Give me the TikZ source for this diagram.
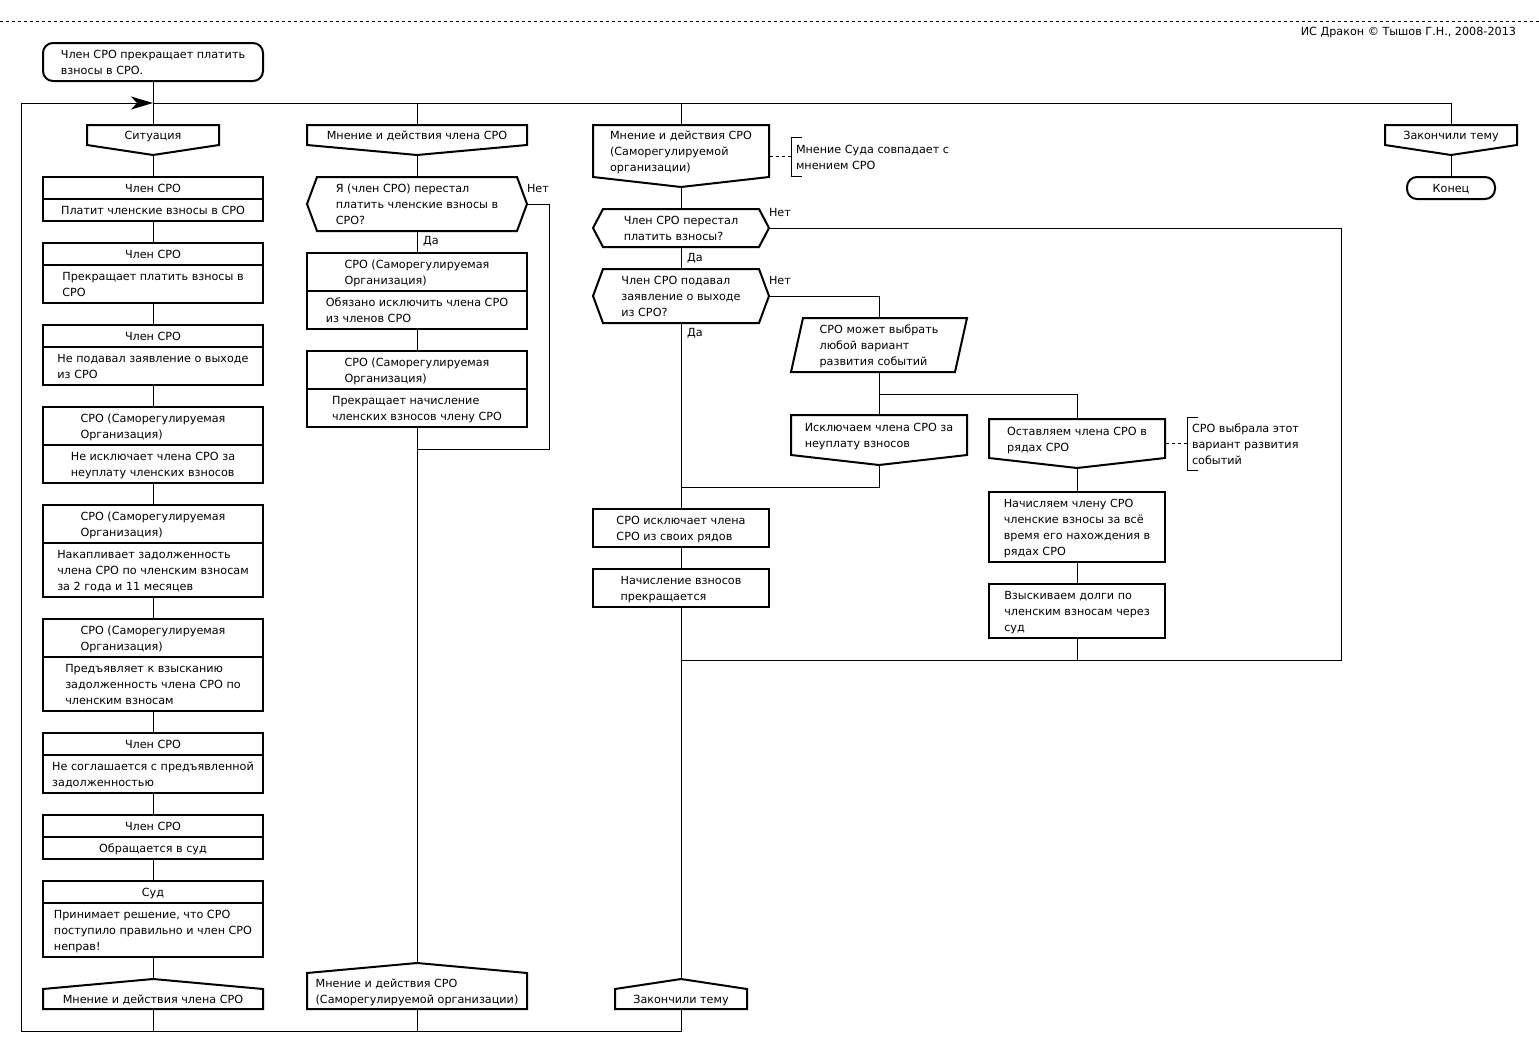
\documentclass[tikz,border=0pt]{standalone}
\usepackage{fontspec}
\setmainfont{DejaVu Sans}
\usetikzlibrary{calc,positioning,arrows.meta}

\tikzset{every picture/.style={line width=0.75pt}}
\tikzset{
  lbl/.style={font=\fontsize{8.4pt}{12pt}\selectfont, inner sep=0pt, outer sep=0pt},
  icon/.style={lbl, draw, line width=1.5pt},
  edge/.style={line width=1.5pt},
  note/.style={dash pattern=on 2.25pt off 2.25pt},
  wide/.style={minimum width=165pt},
  mid/.style={minimum width=132pt},
  slim/.style={minimum width=99pt},
  one/.style={minimum height=16.5pt},
  two/.style={minimum height=28.5pt},
  three/.style={minimum height=40.5pt},
  four/.style={minimum height=52.5pt}
}
% text block of an icon, lines flush left
\newcommand{\boxtext}[1]{\begin{tabular}{@{}l@{}}\rule{0pt}{10.5pt}#1\end{tabular}}
% outlines of the drakon icons
\newcommand{\branchout}[1]{\draw[edge] (#1.north west) -- (#1.north east) -- (#1.south east) -- ($(#1.south)+(0,10)$) coordinate (#1tip) -- (#1.south west) -- cycle;}
\newcommand{\addrout}[1]{\draw[edge] (#1.south west) -- (#1.north west) -- ($(#1.north)+(0,-10)$) coordinate (#1top) -- (#1.north east) -- (#1.south east) -- cycle;}
\newcommand{\questout}[1]{\draw[edge] (#1.west) -- ($(#1.north west)+(10,0)$) -- ($(#1.north east)+(-10,0)$) -- (#1.east) -- ($(#1.south east)+(-10,0)$) -- ($(#1.south west)+(10,0)$) -- cycle;}

\begin{document}
\begin{tikzpicture}[x=0.75pt,y=0.75pt,yscale=-1,xscale=1]
\path[use as bounding box] (0,0) rectangle (1539,1053);

% header
\draw[note] (0,21) -- (1539,21);
\node[lbl, anchor=base east] (copy) at (1516,36) {ИС Дракон © Тышов Г.Н., 2008-2013};

% skeleton points
\coordinate (top1) at (153,103);
\coordinate (bl) at (21,1031);

% Title
\node[icon, wide, two, rounded corners=7.5pt] (title) at (153,62) {\boxtext{Член СРО прекращает платить\\взносы в СРО.}};

%% Column 1
\node[lbl, slim, minimum height=15pt] (h1) at (153,135) {\boxtext{Ситуация}};
\branchout{h1}
\node[icon, wide, one] (s1a) at (153,188) {\boxtext{Член СРО}};
\node[icon, wide, one, below=0pt of s1a] (s1b) {\boxtext{Платит членские взносы в СРО}};
\node[icon, wide, one] (s2a) at (153,254) {\boxtext{Член СРО}};
\node[icon, wide, two, below=0pt of s2a] (s2b) {\boxtext{Прекращает платить взносы в\\СРО}};
\node[icon, wide, one] (s3a) at (153,336) {\boxtext{Член СРО}};
\node[icon, wide, two, below=0pt of s3a] (s3b) {\boxtext{Не подавал заявление о выходе\\из СРО}};
\node[icon, wide, two] (s4a) at (153,426) {\boxtext{СРО (Саморегулируемая\\Организация)}};
\node[icon, wide, two, below=0pt of s4a] (s4b) {\boxtext{Не исключает члена СРО за\\неуплату членских взносов}};
\node[icon, wide, two] (s5a) at (153,524) {\boxtext{СРО (Саморегулируемая\\Организация)}};
\node[icon, wide, three, below=0pt of s5a] (s5b) {\boxtext{Накапливает задолженность\\члена СРО по членским взносам\\за 2 года и 11 месяцев}};
\node[icon, wide, two] (s6a) at (153,638) {\boxtext{СРО (Саморегулируемая\\Организация)}};
\node[icon, wide, three, below=0pt of s6a] (s6b) {\boxtext{Предъявляет к взысканию\\задолженность члена СРО по\\членским взносам}};
\node[icon, wide, one] (s7a) at (153,744) {\boxtext{Член СРО}};
\node[icon, wide, two, below=0pt of s7a] (s7b) {\boxtext{Не соглашается с предъявленной\\задолженностью}};
\node[icon, wide, one] (s8a) at (153,826) {\boxtext{Член СРО}};
\node[icon, wide, one, below=0pt of s8a] (s8b) {\boxtext{Обращается в суд}};
\node[icon, wide, one] (s9a) at (153,892) {\boxtext{Суд}};
\node[icon, wide, three, below=0pt of s9a] (s9b) {\boxtext{Принимает решение, что СРО\\поступило правильно и член СРО\\неправ!}};
\node[lbl, wide, minimum height=15pt] (a1) at (153,999) {\boxtext{Мнение и действия члена СРО}};
\addrout{a1}

%% Column 2
\node[lbl, wide, minimum height=15pt] (h2) at (417,135) {\boxtext{Мнение и действия члена СРО}};
\branchout{h2}
\node[lbl, wide, three] (q2) at (417,204) {\boxtext{Я (член СРО) перестал\\платить членские взносы в\\СРО?}};
\questout{q2}
\node[icon, wide, two] (b1a) at (417,272) {\boxtext{СРО (Саморегулируемая\\Организация)}};
\node[icon, wide, two, below=0pt of b1a] (b1b) {\boxtext{Обязано исключить члена СРО\\из членов СРО}};
\node[icon, wide, two] (b2a) at (417,370) {\boxtext{СРО (Саморегулируемая\\Организация)}};
\node[icon, wide, two, below=0pt of b2a] (b2b) {\boxtext{Прекращает начисление\\членских взносов члену СРО}};
\node[lbl, wide, minimum height=27pt] (a2) at (417,991) {\boxtext{Мнение и действия СРО\\(Саморегулируемой организации)}};
\addrout{a2}

%% Column 3
\node[lbl, mid, minimum height=39pt] (h3) at (681,151) {\boxtext{Мнение и действия СРО\\(Саморегулируемой\\организации)}};
\branchout{h3}
\node[lbl, anchor=west, minimum height=29.25pt, inner xsep=3.75pt] (cm1) at (791,156.5) {\boxtext{Мнение Суда совпадает с\\мнением СРО}};
\node[lbl, mid, two] (q3a) at (681,228) {\boxtext{Член СРО перестал\\платить взносы?}};
\questout{q3a}
\node[lbl, mid, three] (q3b) at (681,296) {\boxtext{Член СРО подавал\\заявление о выходе\\из СРО?}};
\questout{q3b}
\node[lbl, mid, three] (par) at (879,345) {\boxtext{СРО может выбрать\\любой вариант\\развития событий}};
\draw[edge] ($(par.north west)+(12,0)$) -- (par.north east) -- ($(par.south east)+(-12,0)$) -- (par.south west) -- cycle;
\node[lbl, mid, minimum height=30pt] (sub1) at (879,435) {\boxtext{Исключаем члена СРО за\\неуплату взносов}};
\branchout{sub1}
\node[lbl, mid, minimum height=29.25pt] (sub2) at (1077,438.5) {\boxtext{Оставляем члена СРО в\\рядах СРО}};
\branchout{sub2}
\node[lbl, anchor=west, minimum height=39.75pt, inner xsep=3.75pt] (cm2) at (1187,443.5) {\boxtext{СРО выбрала этот\\вариант развития\\событий}};
\node[icon, mid, four] (r1) at (1077,527) {\boxtext{Начисляем члену СРО\\членские взносы за всё\\время его нахождения в\\рядах СРО}};
\node[icon, mid, three] (r2) at (1077,611) {\boxtext{Взыскиваем долги по\\членским взносам через\\суд}};
\node[icon, mid, two] (c1) at (681,528) {\boxtext{СРО исключает члена\\СРО из своих рядов}};
\node[icon, mid, two] (c2) at (681,588) {\boxtext{Начисление взносов\\прекращается}};
\node[lbl, slim, minimum height=15pt] (a3) at (681,999) {\boxtext{Закончили тему}};
\addrout{a3}

%% Column 4
\node[lbl, slim, minimum height=15pt] (h4) at (1451,135) {\boxtext{Закончили тему}};
\branchout{h4}
\node[icon, minimum width=66pt, one, rounded corners=7.5pt] (end) at (1451,188) {\boxtext{Конец}};

% yes / no labels
\node[lbl, anchor=base west] (no1) at ($(q2.east)+(0,-12)$) {Нет};
\node[lbl, anchor=base west] (yes1) at ($(q2.south)+(6,13)$) {Да};
\node[lbl, anchor=base west] (no2) at ($(q3a.east)+(0,-12)$) {Нет};
\node[lbl, anchor=base west] (yes2) at ($(q3a.south)+(6,14)$) {Да};
\node[lbl, anchor=base west] (no3) at ($(q3b.east)+(0,-12)$) {Нет};
\node[lbl, anchor=base west] (yes3) at ($(q3b.south)+(6,13)$) {Да};

% join points
\coordinate (j2) at (417,449);
\coordinate (j3a) at (681,487);
\coordinate (j3b) at (681,660);
\coordinate (fork) at (879,394);

% main line and loop
\draw (top1) -| (h4.north);
\draw (title.south) -- (h1.north);
\draw (h2.north |- top1) -- (h2.north);
\draw (h3.north |- top1) -- (h3.north);
\draw[-{Stealth[length=16.5pt,width=9.75pt,inset=4.5pt]}] (a3.south) |- (bl) |- (top1);
\draw (a1.south) -- (a1.south |- bl);
\draw (a2.south) -- (a2.south |- bl);

% column 1 lines
\draw (h1tip) -- (s1a.north);
\draw (s1b.south) -- (s2a.north);
\draw (s2b.south) -- (s3a.north);
\draw (s3b.south) -- (s4a.north);
\draw (s4b.south) -- (s5a.north);
\draw (s5b.south) -- (s6a.north);
\draw (s6b.south) -- (s7a.north);
\draw (s7b.south) -- (s8a.north);
\draw (s8b.south) -- (s9a.north);
\draw (s9b.south) -- (a1top);

% column 2 lines
\draw (h2tip) -- (q2.north);
\draw (q2.south) -- (b1a.north);
\draw (b1b.south) -- (b2a.north);
\draw (b2b.south) -- (a2top);
\draw (q2.east) -- ++(22,0) |- (j2);

% column 3 lines
\draw (h3tip) -- (q3a.north);
\draw (q3a.south) -- (q3b.north);
\draw (q3b.south) -- (c1.north);
\draw (c1.south) -- (c2.north);
\draw (c2.south) -- (a3top);
\draw (q3a.east) -- ++(572,0) |- (j3b);
\draw (q3b.east) -| (par.north);
\draw (par.south) -- (sub1.north);
\draw (fork) -| (sub2.north);
\draw (sub1tip) |- (j3a);
\draw (sub2tip) -- (r1.north);
\draw (r1.south) -- (r2.north);
\draw (r2.south) -- (r2.south |- j3b);

% column 4 lines
\draw (h4tip) -- (end.north);

% comments
\draw[note] (cm1.west) -- (cm1.west -| h3.east);
\draw ($(cm1.north west)+(11,0)$) -- (cm1.north west) -- (cm1.south west) -- ++(11,0);
\draw[note] (cm2.west) -- (cm2.west -| sub2.east);
\draw ($(cm2.north west)+(11,0)$) -- (cm2.north west) -- (cm2.south west) -- ++(11,0);

\end{tikzpicture}
\end{document}
